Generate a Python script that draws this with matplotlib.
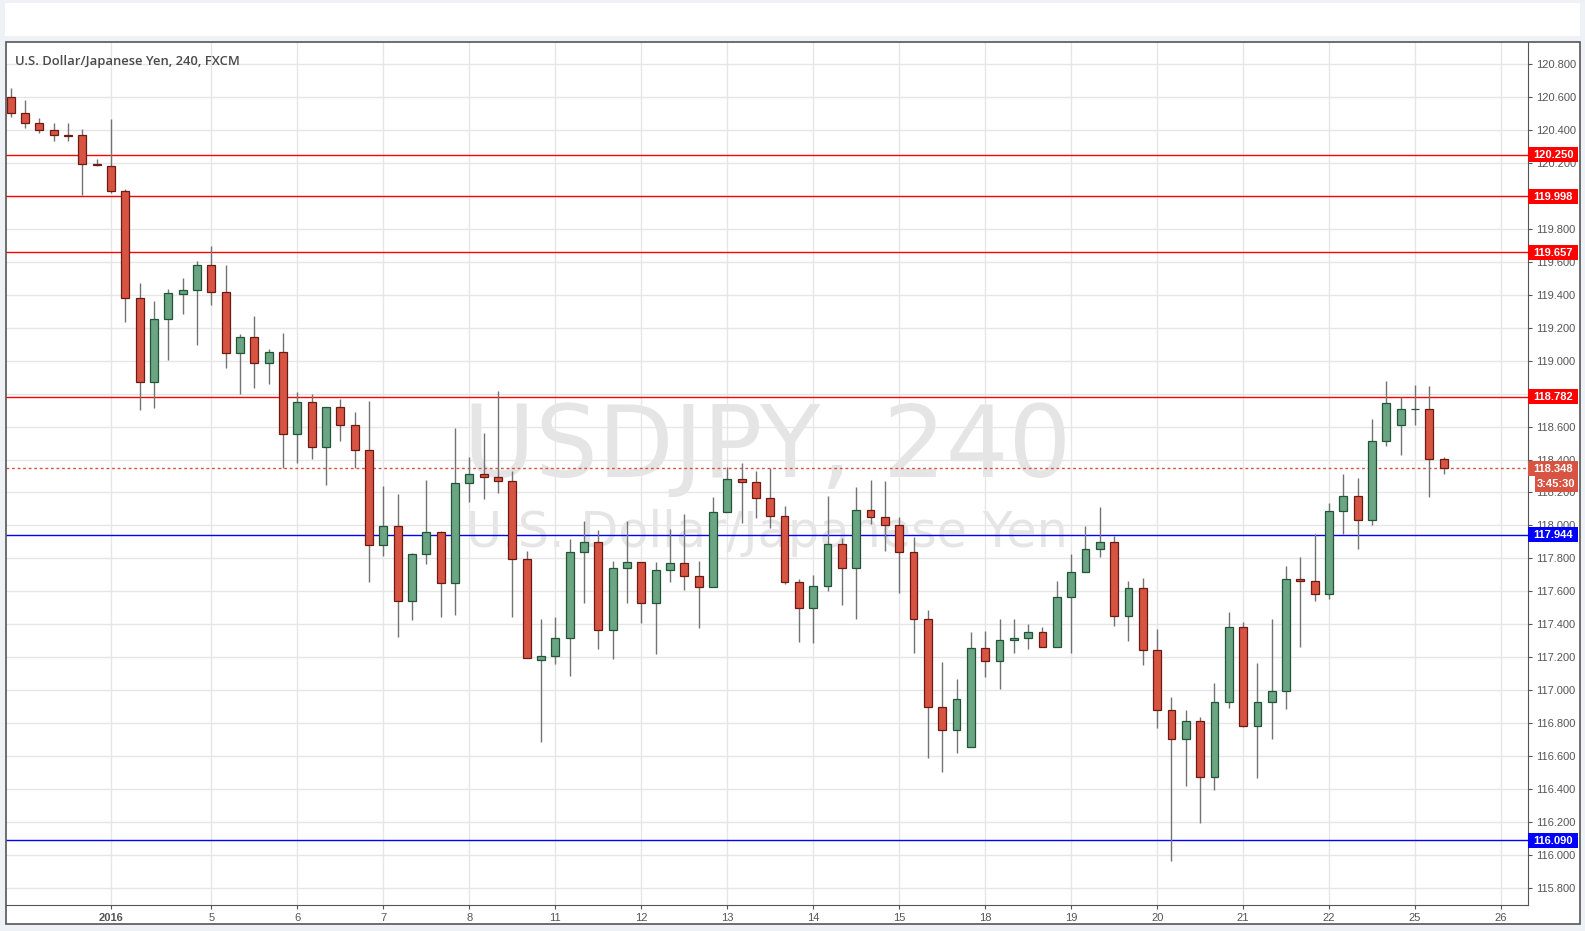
"""
USD/JPY 4h candles, early Jan 2016, with support / resistance levels
"""
import matplotlib
matplotlib.use("Agg")
import matplotlib.pyplot as plt
from matplotlib.patches import Rectangle
import numpy as np

W, H = 1585, 931

opens = [120.602, 120.501, 120.440, 120.399, 120.367, 120.367, 120.191, 120.179,
         120.027, 119.378, 118.868, 119.251, 119.406, 119.427, 119.578, 119.418,
         119.044, 119.141, 118.984, 119.050, 118.553, 118.747, 118.474, 118.717,
         118.607, 118.456, 117.879, 117.999, 117.539, 117.825, 117.958, 117.649,
         118.255, 118.310, 118.292, 118.268, 117.794, 117.181, 117.206, 117.315,
         117.837, 117.897, 117.363, 117.740, 117.776, 117.527, 117.727, 117.770,
         117.691, 117.624, 118.079, 118.280, 118.262, 118.164, 118.055, 117.655,
         117.497, 117.630, 117.885, 117.740, 118.092, 118.049, 118.001, 117.837,
         117.430, 116.896, 116.757, 116.654, 117.254, 117.175, 117.303, 117.315,
         117.351, 117.260, 117.564, 117.715, 117.855, 117.897, 117.448, 117.618,
         117.242, 116.878, 116.702, 116.811, 116.471, 116.927, 117.382, 116.785,
         116.927, 116.993, 117.673, 117.661, 117.582, 118.086, 118.177, 118.031,
         118.510, 118.608, 118.705, 118.705, 118.401]
highs = [120.652, 120.582, 120.470, 120.440, 120.440, 120.404, 120.221, 120.466,
         120.039, 119.469, 119.362, 119.435, 119.501, 119.605, 119.696, 119.578,
         119.160, 119.271, 119.070, 119.166, 118.810, 118.798, 118.717, 118.767,
         118.688, 118.755, 118.239, 118.190, 117.831, 118.276, 117.966, 118.589,
         118.415, 118.561, 118.816, 118.330, 117.843, 117.432, 117.444, 117.916,
         118.027, 117.970, 117.782, 118.027, 117.776, 117.776, 117.978, 118.069,
         117.784, 118.172, 118.352, 118.379, 118.330, 118.346, 118.116, 117.673,
         117.697, 118.177, 117.922, 118.231, 118.276, 118.270, 118.049, 117.928,
         117.487, 117.169, 117.066, 117.351, 117.359, 117.432, 117.432, 117.402,
         117.384, 117.663, 117.827, 117.997, 118.112, 117.936, 117.663, 117.679,
         117.371, 116.959, 116.880, 116.838, 117.044, 117.475, 117.414, 117.165,
         117.434, 117.754, 117.809, 117.946, 118.134, 118.310, 118.288, 118.644,
         118.877, 118.779, 118.852, 118.846, 118.413]
lows = [120.480, 120.414, 120.383, 120.335, 120.335, 120.003, 120.183, 120.015,
        119.236, 118.700, 118.714, 119.004, 119.283, 119.095, 119.338, 118.957,
        118.795, 118.836, 118.856, 118.346, 118.381, 118.403, 118.247, 118.514,
        118.350, 117.659, 117.817, 117.325, 117.428, 117.768, 117.446, 117.459,
        118.144, 118.162, 118.199, 117.446, 117.194, 116.688, 117.161, 117.088,
        117.531, 117.252, 117.191, 117.531, 117.410, 117.222, 117.659, 117.610,
        117.380, 117.624, 118.079, 118.017, 118.047, 117.986, 117.643, 117.295,
        117.289, 117.600, 117.519, 117.434, 118.007, 117.847, 117.592, 117.228,
        116.591, 116.506, 116.621, 116.654, 117.082, 117.010, 117.228, 117.252,
        117.260, 117.260, 117.228, 117.715, 117.811, 117.392, 117.301, 117.155,
        116.773, 115.966, 116.421, 116.196, 116.397, 116.894, 116.779, 116.470,
        116.706, 116.888, 117.264, 117.540, 117.552, 117.946, 117.859, 118.001,
        118.484, 118.430, 118.611, 118.175, 118.314]
closes = [120.501, 120.440, 120.397, 120.367, 120.365, 120.191, 120.189, 120.027,
          119.378, 118.868, 119.251, 119.408, 119.427, 119.578, 119.418, 119.044,
          119.141, 118.984, 119.050, 118.553, 118.747, 118.474, 118.717, 118.607,
          118.456, 117.879, 117.999, 117.539, 117.825, 117.958, 117.649, 118.255,
          118.310, 118.292, 118.268, 117.794, 117.194, 117.206, 117.315, 117.837,
          117.897, 117.363, 117.740, 117.776, 117.527, 117.727, 117.770, 117.691,
          117.624, 118.079, 118.280, 118.262, 118.164, 118.055, 117.655, 117.497,
          117.630, 117.885, 117.740, 118.092, 118.049, 118.001, 117.837, 117.430,
          116.896, 116.757, 116.945, 117.254, 117.175, 117.303, 117.315, 117.351,
          117.260, 117.564, 117.715, 117.855, 117.897, 117.448, 117.618, 117.242,
          116.878, 116.702, 116.811, 116.471, 116.927, 117.382, 116.785, 116.927,
          116.993, 117.673, 117.661, 117.582, 118.086, 118.177, 118.031, 118.510,
          118.741, 118.705, 118.707, 118.401, 118.348]

day_labels = ["2016", "5", "6", "7", "8", "11", "12", "13", "14", "15",
              "18", "19", "20", "21", "22", "25", "26"]
day_index = [7, 14, 20, 26, 32, 38, 44, 50, 56, 62, 68, 74, 80, 86, 92, 98, 104]

price_ticks = [115.8, 116.0, 116.2, 116.4, 116.6, 116.8, 117.0, 117.2, 117.4, 117.6,
               117.8, 118.0, 118.2, 118.4, 118.6, 118.8, 119.0, 119.2, 119.4, 119.6,
               119.8, 120.0, 120.2, 120.4, 120.6, 120.8]
hidden_ticks = [118.8, 120.0]   # fully covered by level boxes

red_levels = [120.250, 119.998, 119.657, 118.782]
blue_levels = [117.944, 116.090]
last_price = 118.348
countdown = "3:45:30"

UP, DOWN = "#6ba583", "#d75442"
UP_EDGE, DOWN_EDGE = "#225437", "#6b1a14"
WICK = "#737375"
TXT = "#555555"

YMIN, YMAX = 115.697, 120.9335
X0, X1, Y0, Y1 = 6, 1528, 42, 905   # plot area in pixels

fig = plt.figure(figsize=(W / 100, H / 100), dpi=100, facecolor="#eef1f5")


def px_rect(x0, y0, x1, y1, **kw):
    return Rectangle((x0 / W, 1 - y1 / H), (x1 - x0) / W, (y1 - y0) / H,
                     transform=fig.transFigure, **kw)


def ypx(p):
    return Y0 + (YMAX - p) * (Y1 - Y0) / (YMAX - YMIN)


fig.add_artist(px_rect(5, 3, 1580, 36, facecolor="white", edgecolor="none", zorder=-2))
fig.add_artist(px_rect(6, 42, 1580, 924, facecolor="white", edgecolor="none", zorder=-2))

ax = fig.add_axes([X0 / W, 1 - Y1 / H, (X1 - X0) / W, (Y1 - Y0) / H])
ax.set_xlim(-0.33, 105.88)
ax.set_ylim(YMIN, YMAX)

# watermark
ax.text(0.5, 0.4963, "USDJPY, 240", transform=ax.transAxes, ha="center",
        va="baseline", fontsize=71, color="#e5e5e5", family="DejaVu Sans", zorder=0.5)
ax.text(0.5, 0.4152, "U.S. Dollar/Japanese Yen", transform=ax.transAxes, ha="center",
        va="baseline", fontsize=35.5, color="#e5e5e5", family="DejaVu Sans", zorder=0.5)

o = np.array(opens)
c = np.array(closes)
x = np.arange(len(o))
up = c > o
ax.vlines(x, lows, highs, color=WICK, lw=1, zorder=2)
ax.bar(x, np.abs(c - o), bottom=np.minimum(o, c), width=0.55,
       color=np.where(up, UP, DOWN), edgecolor=np.where(up, UP_EDGE, DOWN_EDGE),
       linewidth=0.9, zorder=3)

for v in red_levels:
    ax.axhline(v, color="#ff0000", lw=1, zorder=1.5)
for v in blue_levels:
    ax.axhline(v, color="#0000ff", lw=1, zorder=1.5)
ax.axhline(last_price, color=DOWN, lw=1, ls=(0, (2, 2)), zorder=1.5)

ax.set_axisbelow(True)
ax.grid(color="#e6e6e6", lw=1)
for s in ("left", "top"):
    ax.spines[s].set_visible(False)
for s in ("right", "bottom"):
    ax.spines[s].set_color("#555555")

ax.yaxis.tick_right()
ax.set_yticks(price_ticks)
ax.set_yticklabels(["" if any(abs(v - h) < 1e-6 for h in hidden_ticks) else f"{v:.3f}"
                    for v in price_ticks])
ax.set_xticks(day_index)
ax.set_xticklabels(day_labels)
ax.get_xticklabels()[0].set_fontweight("bold")
ax.tick_params(axis="both", length=3, color="#555555", labelcolor=TXT,
               labelsize=8, pad=3)
for t in ax.get_xticklabels() + ax.get_yticklabels():
    t.set_family("Liberation Sans")

# price boxes on the right scale
boxes = [(v, f"{v:.3f}", "#ff0000") for v in red_levels]
boxes += [(v, f"{v:.3f}", "#0000ff") for v in blue_levels]
boxes += [(last_price, f"{last_price:.3f}", DOWN)]
for v, label, col in boxes:
    yc = ypx(v)
    fig.add_artist(px_rect(1528, yc - 7.5, 1578, yc + 7.5, facecolor=col,
                           edgecolor="none", zorder=5))
    fig.text(1553 / W, 1 - (yc + 0.5) / H, label, ha="center", va="center",
             color="white", fontsize=8, fontweight="bold", family="Liberation Sans",
             zorder=6)
yc = ypx(last_price) + 16
fig.add_artist(px_rect(1535, yc - 8, 1578, yc + 8, facecolor=DOWN,
                       edgecolor="none", zorder=5))
fig.text(1556.5 / W, 1 - yc / H, countdown, ha="center", va="center", color="white",
         fontsize=8, fontweight="bold", family="Liberation Sans", zorder=6)

fig.add_artist(px_rect(6, 42, 1580, 924, fill=False, edgecolor="#555555",
                       lw=1.2, zorder=7))

fig.text(15 / W, 1 - 61 / H, "U.S. Dollar/Japanese Yen, 240, FXCM", ha="left",
         va="center", fontsize=9.4, color="#4a4a4a", fontweight="semibold",
         family="Open Sans")

fig.savefig("out.png", dpi=100, facecolor=fig.get_facecolor())
